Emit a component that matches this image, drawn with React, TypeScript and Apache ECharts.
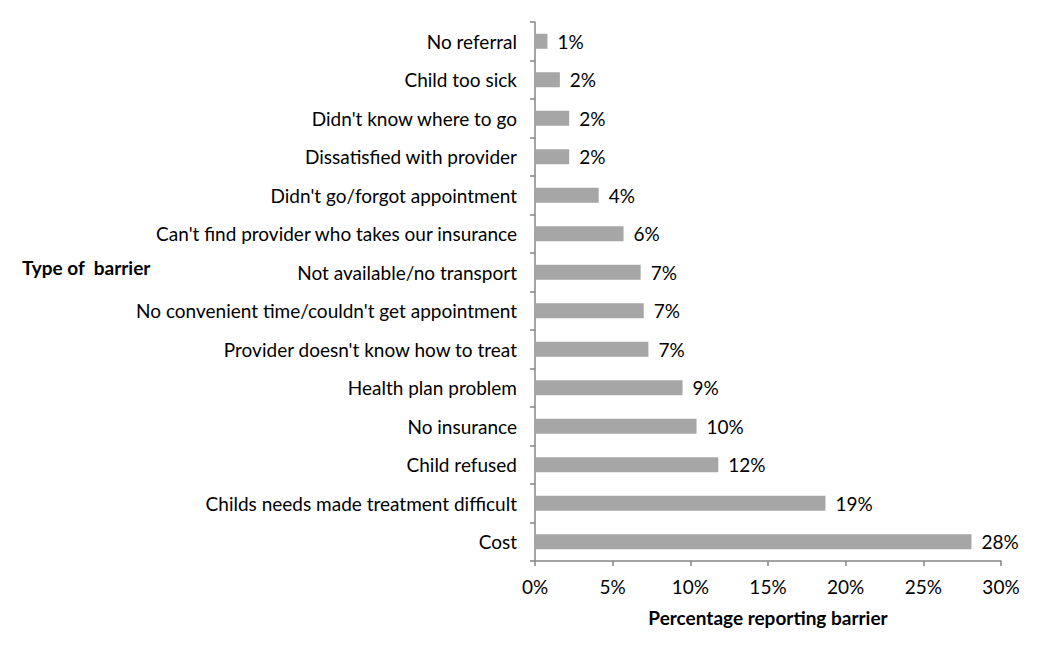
import React, { useEffect, useRef } from "react";
import * as echarts from "echarts";

const categories = [
  "No referral",
  "Child too sick",
  "Didn't know where to go",
  "Dissatisfied with provider",
  "Didn't go/forgot appointment",
  "Can't find provider who takes our insurance",
  "Not available/no transport",
  "No convenient time/couldn't get appointment",
  "Provider doesn't know how to treat",
  "Health plan problem",
  "No insurance",
  "Child refused",
  "Childs needs made treatment difficult",
  "Cost",
];
const values = [0.8, 1.6, 2.2, 2.2, 4.1, 5.7, 6.8, 7.0, 7.3, 9.5, 10.4, 11.8, 18.7, 28.1];
const labels = ["1%", "2%", "2%", "2%", "4%", "6%", "7%", "7%", "7%", "9%", "10%", "12%", "19%", "28%"];
const xTicks = [0, 5, 10, 15, 20, 25, 30];

const FONT = "Lato, 'Open Sans', sans-serif";

export default function App() {
  const ref = useRef<HTMLDivElement>(null);
  useEffect(() => {
    document.body.style.margin = "0";
    const chart = echarts.init(ref.current!, null, { renderer: "svg" });
    const revCats = [...categories].reverse();
    const revVals = [...values].reverse();
    const revLabels = [...labels].reverse();
    chart.setOption({
      animation: false,
      backgroundColor: "#ffffff",
      grid: { left: 535, right: 49, top: 22, bottom: 90, containLabel: false },
      xAxis: {
        type: "value",
        min: xTicks[0],
        max: xTicks[xTicks.length - 1],
        interval: 5,
        axisLine: { show: true, lineStyle: { color: "#868686", width: 1.5 } },
        axisTick: { show: true, length: 5, lineStyle: { color: "#868686", width: 1.5 } },
        splitLine: { show: false },
        axisLabel: {
          formatter: (v: number) => v + "%",
          fontFamily: FONT,
          fontSize: 19,
          color: "#000",
          margin: 16,
        },
        name: "Percentage reporting barrier",
        nameLocation: "middle",
        nameGap: 47,
        nameTextStyle: { fontFamily: FONT, fontSize: 19, fontWeight: "bold", color: "#000" },
      },
      yAxis: {
        type: "category",
        data: revCats,
        axisLine: { show: true, lineStyle: { color: "#868686", width: 1.5 } },
        axisTick: { show: true, length: 5, lineStyle: { color: "#868686", width: 1.5 } },
        axisLabel: { fontFamily: FONT, fontSize: 19, color: "#000", margin: 18 },
      },
      graphic: [
        {
          type: "text",
          left: 22,
          top: 258,
          style: { text: "Type of  barrier", font: `bold 19px ${FONT}`, fill: "#000" },
        },
      ],
      series: [
        {
          type: "bar",
          data: revVals,
          barWidth: 15,
          itemStyle: { color: "#a6a6a6" },
          label: {
            show: true,
            position: "right",
            distance: 10,
            formatter: (p: any) => revLabels[p.dataIndex],
            fontFamily: FONT,
            fontSize: 19,
            color: "#000",
          },
        },
      ],
    });
    return () => chart.dispose();
  }, []);
  return <div ref={ref} style={{ width: 1050, height: 651 }} />;
}
